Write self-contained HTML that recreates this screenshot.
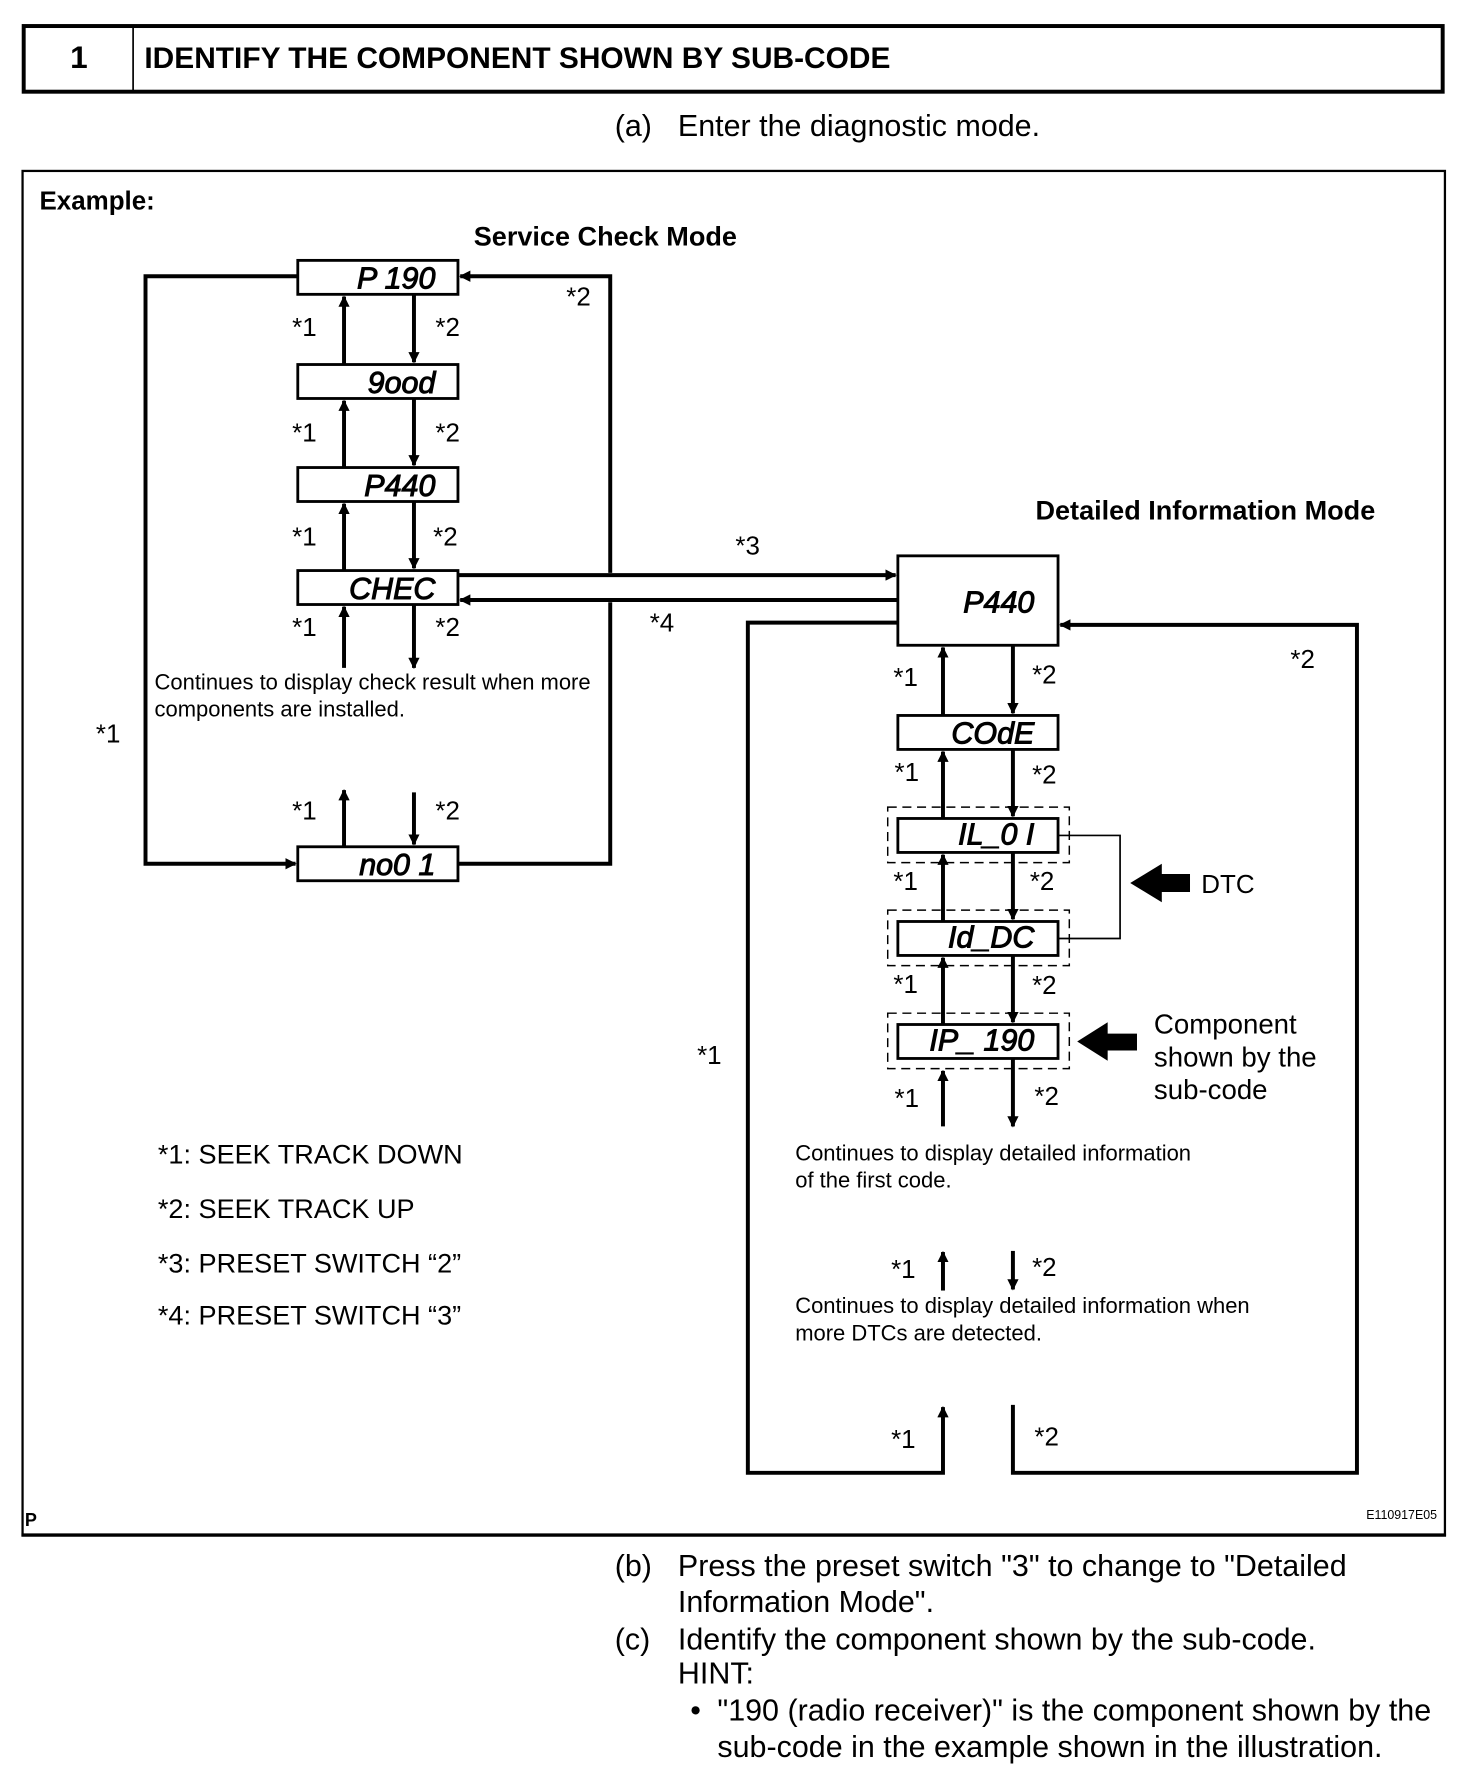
<!DOCTYPE html>
<html><head><meta charset="utf-8"><style>
html,body{margin:0;padding:0;background:#fff}
svg{display:block}
text{font-family:"Liberation Sans",sans-serif;fill:#000}
.lcd{font-size:27px;font-style:italic;font-weight:normal;text-anchor:end;letter-spacing:0px;stroke:#000;stroke-width:0.9}
.s{font-size:23px}
.m{font-size:19.5px}
.b{font-size:27px}
.bx{fill:#fff;stroke:#000;stroke-width:2.5}
.ln{stroke:#000;stroke-width:3.5;fill:none}
.ds{fill:none;stroke:#000;stroke-width:1.3;stroke-dasharray:8 5}
</style></head><body>
<svg width="1472" height="1766" viewBox="0 0 1305 1560" preserveAspectRatio="none" xmlns="http://www.w3.org/2000/svg">
<defs>
<marker id="a" markerWidth="10" markerHeight="10" refX="9" refY="5" orient="auto" markerUnits="userSpaceOnUse" viewBox="0 0 10 10"><path d="M0,0 L10,5 L0,10 z" fill="#000"/></marker>
</defs>
<!-- header -->
<rect x="21" y="23" width="1258" height="58" fill="none" stroke="#000" stroke-width="3.5"/>
<line x1="118" y1="23" x2="118" y2="81" stroke="#000" stroke-width="1.5"/>
<text x="70" y="60" font-size="28" font-weight="bold" text-anchor="middle">1</text>
<text x="128" y="60" font-size="26.5" font-weight="bold">IDENTIFY THE COMPONENT SHOWN BY SUB-CODE</text>
<text class="b" x="545" y="120">(a)</text><text class="b" x="601" y="120">Enter the diagnostic mode.</text>
<!-- example box -->
<rect x="20" y="151" width="1261" height="1205" fill="none" stroke="#000" stroke-width="2"/>
<line x1="19" y1="1356" x2="1282" y2="1356" stroke="#000" stroke-width="3"/>
<text x="35" y="185" font-size="23" font-weight="bold">Example:</text>
<text x="420" y="217" font-size="24" font-weight="bold">Service Check Mode</text>
<text x="918" y="459" font-size="24" font-weight="bold">Detailed Information Mode</text>

<!-- left loops -->
<polyline class="ln" points="264,244 129,244 129,763 262,763" marker-end="url(#a)"/>
<polyline class="ln" points="406,763 541,763 541,532"/>
<polyline class="ln" points="541,506 541,244 408,244" marker-end="url(#a)"/>
<!-- left vertical arrows -->
<g class="ln">
<line x1="305" y1="322" x2="305" y2="262" marker-end="url(#a)"/>
<line x1="367" y1="260" x2="367" y2="320" marker-end="url(#a)"/>
<line x1="305" y1="413" x2="305" y2="354" marker-end="url(#a)"/>
<line x1="367" y1="352" x2="367" y2="411" marker-end="url(#a)"/>
<line x1="305" y1="504" x2="305" y2="445" marker-end="url(#a)"/>
<line x1="367" y1="443" x2="367" y2="502" marker-end="url(#a)"/>
<line x1="305" y1="590" x2="305" y2="536" marker-end="url(#a)"/>
<line x1="367" y1="534" x2="367" y2="590" marker-end="url(#a)"/>
<line x1="305" y1="748" x2="305" y2="698" marker-end="url(#a)"/>
<line x1="367" y1="700" x2="367" y2="746" marker-end="url(#a)"/>
</g>
<!-- CHEC connectors -->
<line class="ln" x1="406" y1="508" x2="794" y2="508" marker-end="url(#a)"/>
<line class="ln" x1="796" y1="530" x2="408" y2="530" marker-end="url(#a)"/>
<!-- left boxes -->
<rect class="bx" x="264" y="230" width="142" height="30"/><text class="lcd" x="386" y="255">P 190</text>
<rect class="bx" x="264" y="322" width="142" height="30"/><text class="lcd" x="386" y="347">9ood</text>
<rect class="bx" x="264" y="413" width="142" height="30"/><text class="lcd" x="386" y="438">P440</text>
<rect class="bx" x="264" y="504" width="142" height="30"/><text class="lcd" x="386" y="529">CHEC</text>
<rect class="bx" x="264" y="748" width="142" height="30"/><text class="lcd" x="386" y="773">no0 1</text>
<!-- left labels -->
<g class="s">
<text x="259" y="297">*1</text><text x="386" y="297">*2</text>
<text x="259" y="390">*1</text><text x="386" y="390">*2</text>
<text x="259" y="482">*1</text><text x="384" y="482">*2</text>
<text x="259" y="562">*1</text><text x="386" y="562">*2</text>
<text x="259" y="724">*1</text><text x="386" y="724">*2</text>
<text x="502" y="270">*2</text>
<text x="85" y="656">*1</text>
<text x="652" y="490">*3</text>
<text x="576" y="558">*4</text>
</g>
<text class="m" x="137" y="609">Continues to display check result when more</text>
<text class="m" x="137" y="633">components are installed.</text>

<!-- right loops -->
<polyline class="ln" points="796,550 663,550 663,1301 836,1301 836,1243" marker-end="url(#a)"/>
<polyline class="ln" points="898,1241 898,1301 1203,1301 1203,552 940,552" marker-end="url(#a)"/>
<rect class="bx" x="796" y="491" width="142" height="79"/><text class="lcd" x="917" y="541">P440</text>
<!-- right vertical arrows -->
<g class="ln">
<line x1="836" y1="632" x2="836" y2="572" marker-end="url(#a)"/>
<line x1="898" y1="570" x2="898" y2="630" marker-end="url(#a)"/>
<line x1="836" y1="723" x2="836" y2="664" marker-end="url(#a)"/>
<line x1="898" y1="662" x2="898" y2="721" marker-end="url(#a)"/>
<line x1="836" y1="814" x2="836" y2="755" marker-end="url(#a)"/>
<line x1="898" y1="753" x2="898" y2="812" marker-end="url(#a)"/>
<line x1="836" y1="905" x2="836" y2="846" marker-end="url(#a)"/>
<line x1="898" y1="844" x2="898" y2="903" marker-end="url(#a)"/>
<line x1="836" y1="995" x2="836" y2="946" marker-end="url(#a)"/>
<line x1="898" y1="935" x2="898" y2="995" marker-end="url(#a)"/>
<line x1="836" y1="1140" x2="836" y2="1106" marker-end="url(#a)"/>
<line x1="898" y1="1105" x2="898" y2="1139" marker-end="url(#a)"/>
</g>
<rect class="ds" x="787" y="713" width="161" height="49"/>
<rect class="ds" x="787" y="804" width="161" height="49"/>
<rect class="ds" x="787" y="895" width="161" height="49"/>
<rect class="bx" x="796" y="632" width="142" height="30"/><text class="lcd" x="917" y="657">COdE</text>
<rect class="bx" x="796" y="723" width="142" height="30"/><text class="lcd" x="917" y="746">IL_0 I</text>
<rect class="bx" x="796" y="814" width="142" height="30"/><text class="lcd" x="917" y="837">Id_DC</text>
<rect class="bx" x="796" y="905" width="142" height="30"/><text class="lcd" x="917" y="928">IP_ 190</text>
<polyline points="938,738 993,738 993,829 938,829" fill="none" stroke="#000" stroke-width="1.5"/>
<path d="M1002,780 L1030,763 L1030,772 L1055,772 L1055,788 L1030,788 L1030,797 z"/>
<path d="M955,920 L982,903 L982,913 L1008,913 L1008,928 L982,928 L982,937 z"/>
<text class="s" x="1065" y="789" font-size="24">DTC</text>
<g font-size="24.5">
<text x="1023" y="913">Component</text>
<text x="1023" y="942">shown by the</text>
<text x="1023" y="971">sub-code</text>
</g>
<g class="s">
<text x="792" y="606">*1</text><text x="915" y="604">*2</text>
<text x="793" y="690">*1</text><text x="915" y="692">*2</text>
<text x="792" y="786">*1</text><text x="913" y="786">*2</text>
<text x="792" y="877">*1</text><text x="915" y="878">*2</text>
<text x="793" y="978">*1</text><text x="917" y="976">*2</text>
<text x="790" y="1129">*1</text><text x="915" y="1127">*2</text>
<text x="790" y="1279">*1</text><text x="917" y="1277">*2</text>
<text x="1144" y="590">*2</text>
<text x="618" y="940">*1</text>
</g>
<text class="m" x="705" y="1025">Continues to display detailed information</text>
<text class="m" x="705" y="1049">of the first code.</text>
<text class="m" x="705" y="1160">Continues to display detailed information when</text>
<text class="m" x="705" y="1184">more DTCs are detected.</text>
<!-- legend -->
<g font-size="24">
<text x="140" y="1028">*1: SEEK TRACK DOWN</text>
<text x="140" y="1076">*2: SEEK TRACK UP</text>
<text x="140" y="1124">*3: PRESET SWITCH “2”</text>
<text x="140" y="1170">*4: PRESET SWITCH “3”</text>
</g>
<text x="22" y="1348" font-size="16" font-weight="bold">P</text>
<text x="1274" y="1342" font-size="11" text-anchor="end">E110917E05</text>
<!-- bottom text -->
<g class="b">
<text x="545" y="1392">(b)</text><text x="601" y="1392">Press the preset switch "3" to change to "Detailed</text>
<text x="601" y="1424">Information Mode".</text>
<text x="545" y="1457">(c)</text><text x="601" y="1457">Identify the component shown by the sub-code.</text>
<text x="601" y="1487">HINT:</text>
<text x="612" y="1520">•</text><text x="636" y="1520">"190 (radio receiver)" is the component shown by the</text>
<text x="636" y="1552">sub-code in the example shown in the illustration.</text>
</g>
</svg>
</body></html>
